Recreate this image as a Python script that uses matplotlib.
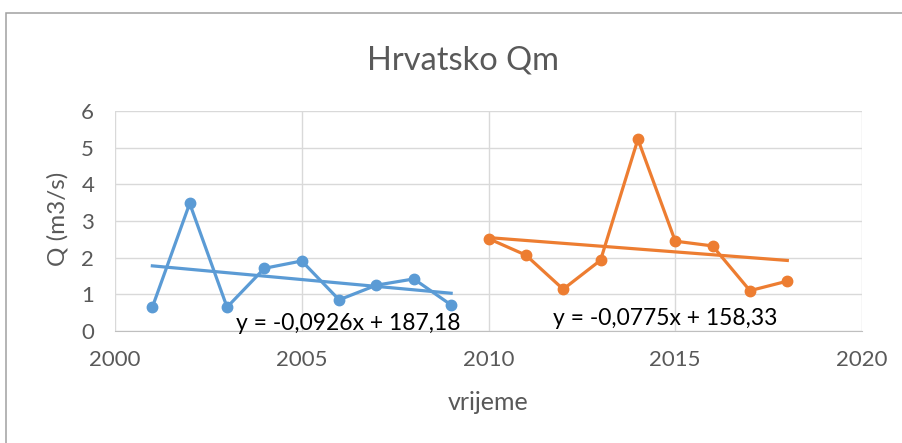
import numpy as np
import matplotlib.pyplot as plt
from matplotlib.patches import Rectangle

plt.rcParams['font.family'] = ['Lato', 'DejaVu Sans']

years_a = [2001, 2002, 2003, 2004, 2005, 2006, 2007, 2008, 2009]
q_a = [0.65, 3.48, 0.65, 1.71, 1.91, 0.85, 1.25, 1.42, 0.71]
years_b = [2010, 2011, 2012, 2013, 2014, 2015, 2016, 2017, 2018]
q_b = [2.52, 2.07, 1.14, 1.93, 5.23, 2.45, 2.32, 1.10, 1.36]
eq_a = "y = -0,0926x + 187,18"
eq_b = "y = -0,0775x + 158,33"

blue = '#5B9BD5'
orange = '#ED7D31'
gray = '#595959'

W, H = 902, 443
fig = plt.figure(figsize=(W / 100, H / 100), dpi=100)
ax = fig.add_axes([115 / W, 1 - 331 / H, 747 / W, 220 / H])

# chart frame (only top and left edges visible in the crop)
fig.patches.append(Rectangle((6 / W, -0.1), 1.2, (H - 12.5) / H + 0.1,
                             transform=fig.transFigure, fill=False,
                             edgecolor='#A0A0A0', linewidth=1.1))

for xs, ys, c in [(years_a, q_a, blue), (years_b, q_b, orange)]:
    ax.plot(xs, ys, color=c, lw=2.3, marker='o', ms=7.5, zorder=3)
    k, n = np.polyfit(xs, ys, 1)
    xx = np.array([xs[0], xs[-1]])
    ax.plot(xx, k * xx + n, color=c, lw=2.3, zorder=2)

ax.text(2006.24, 0.03, eq_a, ha='center', va='baseline', fontsize=16.5, color='black', zorder=4)
ax.text(2014.73, 0.17, eq_b, ha='center', va='baseline', fontsize=16.5, color='black', zorder=4)

ax.set_xlim(2000, 2020)
ax.set_ylim(0, 6)
ax.set_xticks(range(2000, 2021, 5))
ax.set_yticks(range(0, 7))
ax.grid(True, color='#D9D9D9', lw=1)
ax.set_axisbelow(True)
for s in ['left', 'right', 'top']:
    ax.spines[s].set_visible(False)
ax.spines['bottom'].set_color('#BFBFBF')
ax.tick_params(length=0, labelsize=16, labelcolor=gray)
ax.tick_params(axis='x', pad=14)
ax.tick_params(axis='y', pad=15)

fig.text(463 / W, 1 - 69 / H, 'Hrvatsko Qm', ha='center', va='baseline', fontsize=23.5, color=gray)
fig.text(488 / W, 1 - 410 / H, 'vrijeme', ha='center', va='baseline', fontsize=18, color=gray)
fig.text(58 / W, 1 - 219 / H, 'Q (m3/s)', ha='center', va='center', rotation=90, fontsize=17.5, color=gray)

fig.savefig('out.png', dpi=100)
